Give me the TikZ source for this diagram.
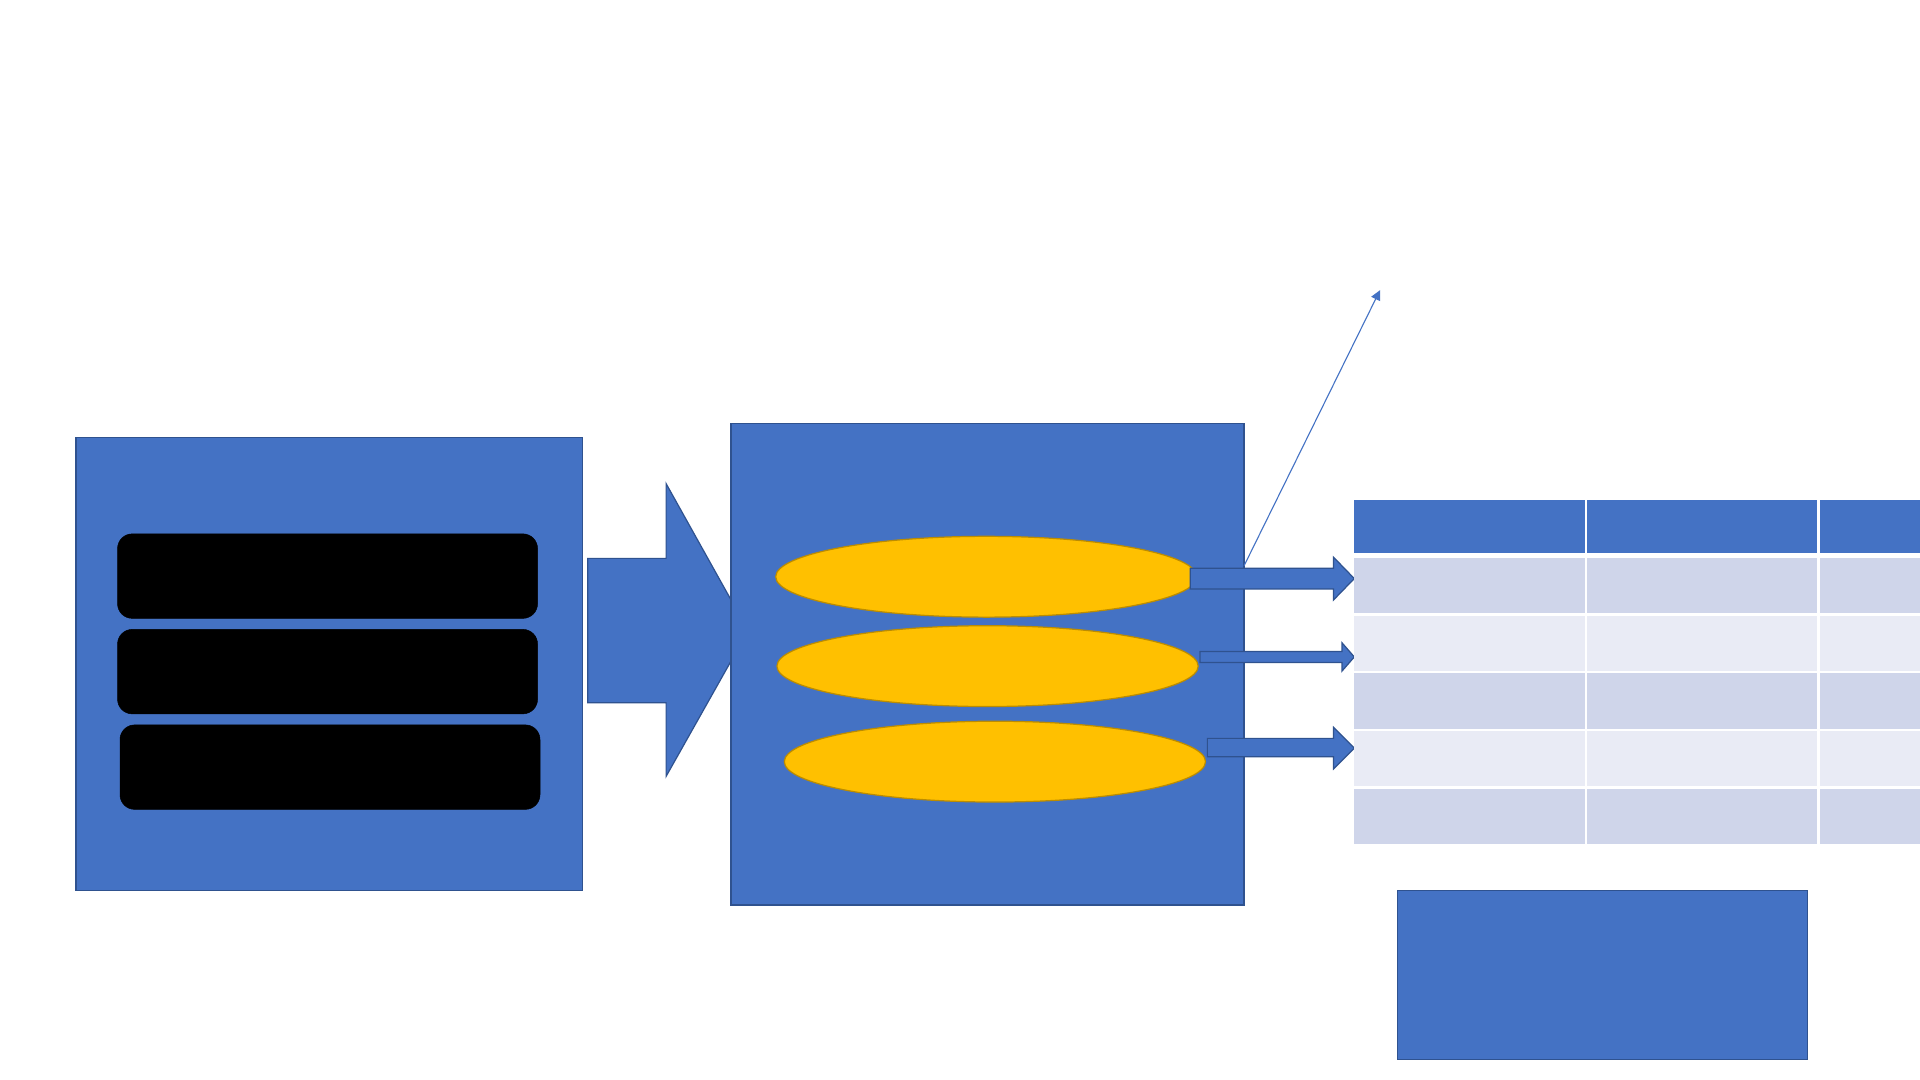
\documentclass[tikz,border=0pt]{standalone}
\usetikzlibrary{shapes.geometric,arrows.meta}
\definecolor{ofblue}{HTML}{4472C4}
\definecolor{ofedge}{HTML}{2F528F}
\definecolor{ofgold}{HTML}{FFC000}
\definecolor{ofgoldedge}{HTML}{BC8C00}
\definecolor{rowdark}{HTML}{CFD5EA}
\definecolor{rowlight}{HTML}{E9EBF5}
\begin{document}
\begin{tikzpicture}[x=1pt,y=-1pt,
  bluebox/.style={draw=ofedge,fill=ofblue,line width=1pt,inner sep=0pt,outer sep=0pt,anchor=north west},
  pill/.style={draw=black,fill=black,rounded corners=12pt,inner sep=0pt,outer sep=0pt,anchor=north west,minimum width=343pt,minimum height=69pt},
  disc/.style={ellipse,draw=ofgoldedge,fill=ofgold,line width=1pt,inner sep=0pt,outer sep=0pt,minimum width=344pt,minimum height=66pt},
  blockarrow/.style={draw=ofedge,fill=ofblue,line width=1pt,line join=miter},
  thinarrow/.style={draw=ofblue,line width=0.9pt,-{Triangle[length=8pt,width=8pt]}},
  cell/.style={inner sep=0pt,outer sep=0pt,anchor=north west,draw=none}
]
\useasboundingbox[fill=white] (0,0) rectangle (1568,882);

% left source box with three bars
\node[bluebox,minimum width=414pt,minimum height=370pt] (src) at (62,357) {};
\node[pill] (bar1) at (96,436) {};
\node[pill] (bar2) at (96,514) {};
\node[pill] (bar3) at (98,592) {};

% big block arrow
\draw[blockarrow] (480,456) -- (544,456) -- (544,395) -- (611,515) -- (544,634) -- (544,574) -- (480,574) -- cycle;

% middle box
\node[bluebox,minimum width=419pt,minimum height=393pt] (mid) at (597,346) {};

% discs
\node[disc] (e1) at (805.5,471) {};
\node[disc] (e2) at (806.5,544) {};
\node[disc] (e3) at (812.5,622) {};

% small block arrows
\draw[blockarrow] (972,464) -- (1089,464) -- (1089,455) -- (1106,472.5) -- (1089,490) -- (1089,481) -- (972,481) -- cycle;
\draw[blockarrow] (980,532) -- (1096,532) -- (1096,525) -- (1106,536.5) -- (1096,548) -- (1096,541) -- (980,541) -- cycle;
\draw[blockarrow] (986,603) -- (1089,603) -- (1089,594) -- (1106,611) -- (1089,628) -- (1089,618) -- (986,618) -- cycle;

% thin arrow
\coordinate (tipend) at (1127,237);
\coordinate (tipstart) at (1016,462);
\draw[thinarrow] (tipstart) -- (tipend);

% table header
\node[cell,fill=ofblue,minimum width=188pt,minimum height=44pt] (h1) at (1106,408) {};
\node[cell,fill=ofblue,minimum width=188pt,minimum height=44pt] (h2) at (1296,408) {};
\node[cell,fill=ofblue,minimum width=82pt,minimum height=44pt] (h3) at (1486,408) {};
% table rows
\foreach \r/\y/\c in {1/456/rowdark,2/503/rowlight,3/550/rowdark,4/597/rowlight,5/644/rowdark}{
  \node[cell,fill=\c,minimum width=188pt,minimum height=45pt] (r\r c1) at (1106,\y) {};
  \node[cell,fill=\c,minimum width=188pt,minimum height=45pt] (r\r c2) at (1296,\y) {};
  \node[cell,fill=\c,minimum width=82pt,minimum height=45pt] (r\r c3) at (1486,\y) {};
}

% bottom box
\node[bluebox,minimum width=335pt,minimum height=138pt] (out) at (1141,727) {};
\end{tikzpicture}
\end{document}
